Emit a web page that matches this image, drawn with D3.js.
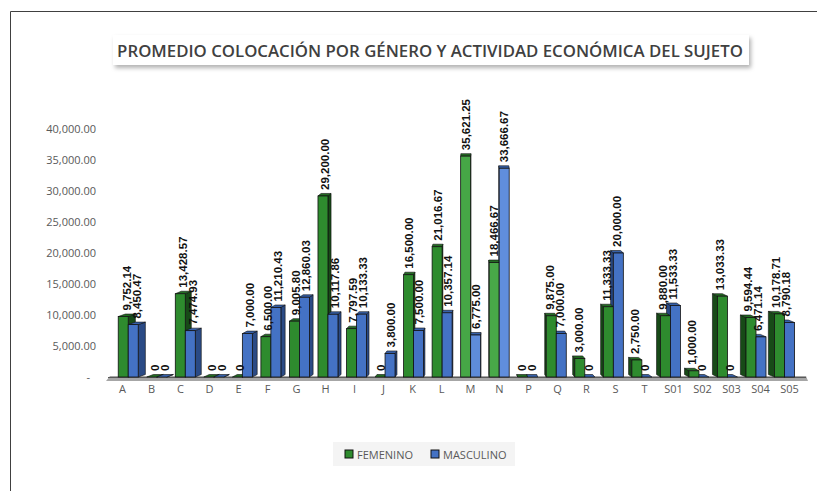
<!DOCTYPE html>
<html>
<head>
<meta charset="utf-8">
<script src="https://cdn.jsdelivr.net/npm/d3@7"></script>
<style>
  body { margin: 0; background: #fff; }
  svg { display: block; }
  .axis text { font-family: "Open Sans", sans-serif; font-size: 11px; fill: #595959; }
  .lbl { font-family: "Liberation Sans", Arial, sans-serif; font-size: 11.5px; font-weight: bold; fill: #111; }
</style>
</head>
<body>
<svg width="817" height="491"></svg>
<script>
const categories = ["A", "B", "C", "D", "E", "F", "G", "H", "I", "J", "K", "L", "M", "N", "P", "Q", "R", "S", "T", "S01", "S02", "S03", "S04", "S05"];
const femenino = [9752.14, 0, 13428.57, 0, 0, 6500.00, 9005.80, 29200.00, 7797.59, 0, 16500.00, 21016.67, 35621.25, 18466.67, 0, 9875.00, 3000.00, 11333.33, 2750.00, 9880.00, 1000.00, 13033.33, 9594.44, 10178.71];
const masculino = [8450.47, 0, 7474.93, 0, 7000.00, 11210.43, 12860.03, 10117.86, 10133.33, 3800.00, 7500.00, 10357.14, 6775.00, 33666.67, 0, 7000.00, 0, 20000.00, 0, 11533.33, 0, 0, 6471.14, 8790.18];
const yTicks = [0, 5000, 10000, 15000, 20000, 25000, 30000, 35000, 40000];
const seriesNames = ["FEMENINO", "MASCULINO"];

const svg = d3.select("svg");

// frame
svg.append("path").attr("d", "M10.5,491 V11.5 H817").attr("fill", "none").attr("stroke", "#404040").attr("stroke-width", 1);

// title box with shadow
const defs = svg.append("defs");
const f = defs.append("filter").attr("id", "sh").attr("x", "-5%").attr("y", "-50%").attr("width", "110%").attr("height", "200%");
f.append("feDropShadow").attr("dx", 2).attr("dy", 3).attr("stdDeviation", 2).attr("flood-color", "#000").attr("flood-opacity", 0.3);
svg.append("rect").attr("x", 113).attr("y", 35).attr("width", 636).attr("height", 30).attr("fill", "#fff").attr("filter", "url(#sh)");
svg.append("text")
  .attr("x", 430).attr("y", 50)
  .attr("text-anchor", "middle").attr("dominant-baseline", "central")
  .style("font-family", "'Open Sans', sans-serif").style("font-size", "16.8px").style("font-weight", 600)
  .attr("fill", "#404040")
  .text("PROMEDIO COLOCACIÓN POR GÉNERO Y ACTIVIDAD ECONÓMICA DEL SUJETO");

const x = d3.scaleBand().domain(categories).range([108, 804]);
const y = d3.scaleLinear().domain([0, 40000]).range([377, 129]);

// y axis
const yAxis = svg.append("g").attr("class", "axis").attr("transform", "translate(96,0)")
  .call(d3.axisLeft(y).tickValues(yTicks).tickSize(0).tickPadding(0)
    .tickFormat(d => d === 0 ? "-" : d3.format(",.2f")(d)));
yAxis.select(".domain").remove();
yAxis.selectAll(".tick text").filter(d => d === 0).attr("x", -6);

// floor
svg.append("path")
  .attr("d", `M106,${y(0) + 4} L110,${y(0) - 1} L806,${y(0) - 1} L808,${y(0) + 4} Z`)
  .attr("fill", "#a6a6a6");
svg.append("line").attr("x1", 108).attr("x2", 806).attr("y1", y(0) + 0.5).attr("y2", y(0) + 0.5)
  .attr("stroke", "#595959").attr("stroke-width", 1);

// x axis
const xAxis = svg.append("g").attr("class", "axis").attr("transform", `translate(0,${y(0) + 8})`)
  .call(d3.axisBottom(x).tickSize(0).tickPadding(0));
xAxis.select(".domain").remove();

// 3d-ish bars
const cx = 480, bw = 10;
const pal = [
  { front: "#2e8b2e", light: "#55b855", side: "#174a17", top: "#236b23" },
  { front: "#4472c4", light: "#6f9ce8", side: "#2a4a85", top: "#3660a8" }
];
const bars = [];
categories.forEach((c, i) => {
  const xc = x(c) + x.bandwidth() / 2;
  const mid = xc + (cx - xc) * 0.016;
  const dx = (cx - xc) * 0.02;
  [femenino[i], masculino[i]].forEach((v, s) => {
    const x0 = s === 0 ? mid - bw : mid;
    bars.push({ cat: c, s, v, x0, x1: x0 + bw, dx, top: y(v), base: y(0), xc });
  });
});

const dy = -2.5;
const g = svg.append("g");
// sides and tops first
g.selectAll(".side").data(bars).enter().append("path")
  .attr("d", d => {
    const ex = d.dx >= 0 ? d.x1 : d.x0;
    return `M${ex},${d.top} L${ex + d.dx},${d.top + dy} L${ex + d.dx},${d.base + dy} L${ex},${d.base} Z`;
  })
  .attr("fill", d => pal[d.s].side).attr("stroke", "#111").attr("stroke-width", 0.6);
g.selectAll(".top").data(bars).enter().append("path")
  .attr("d", d => `M${d.x0},${d.top} L${d.x1},${d.top} L${d.x1 + d.dx},${d.top + dy} L${d.x0 + d.dx},${d.top + dy} Z`)
  .attr("fill", d => pal[d.s].top).attr("stroke", "#111").attr("stroke-width", 0.6);
// fronts
g.selectAll(".front").data(bars.filter(d => d.v > 0)).enter().append("rect")
  .attr("x", d => d.x0).attr("y", d => d.top)
  .attr("width", bw).attr("height", d => d.base - d.top)
  .attr("fill", d => {
    const k = Math.max(0, 1 - Math.abs(d.xc - 486) / 40);
    return d3.interpolateRgb(pal[d.s].front, pal[d.s].light)(k);
  })
  .attr("stroke", "#111").attr("stroke-width", 0.8);

// data labels
svg.append("g").selectAll("text").data(bars).enter().append("text")
  .attr("class", "lbl")
  .attr("transform", d => `translate(${(d.x0 + d.x1) / 2 + d.dx / 2},${d.top - 6}) rotate(-90)`)
  .attr("dominant-baseline", "central")
  .text(d => d.v === 0 ? "0" : d3.format(",.2f")(d.v));

// legend
const lg = svg.append("g").attr("transform", "translate(333,442)");
lg.append("rect").attr("width", 182).attr("height", 24).attr("fill", "#f4f4f4");
const items = lg.selectAll("g").data(seriesNames).enter().append("g")
  .attr("transform", (d, i) => `translate(${i === 0 ? 12 : 98},12)`);
items.append("rect").attr("x", 0).attr("y", -4).attr("width", 8).attr("height", 8)
  .attr("fill", (d, i) => pal[i].front).attr("stroke", "#111").attr("stroke-width", 1);
items.append("text").attr("x", 12).attr("dominant-baseline", "central")
  .style("font-family", "'Open Sans', sans-serif").style("font-size", "11px").attr("fill", "#595959")
  .text(d => d);
</script>
</body>
</html>
